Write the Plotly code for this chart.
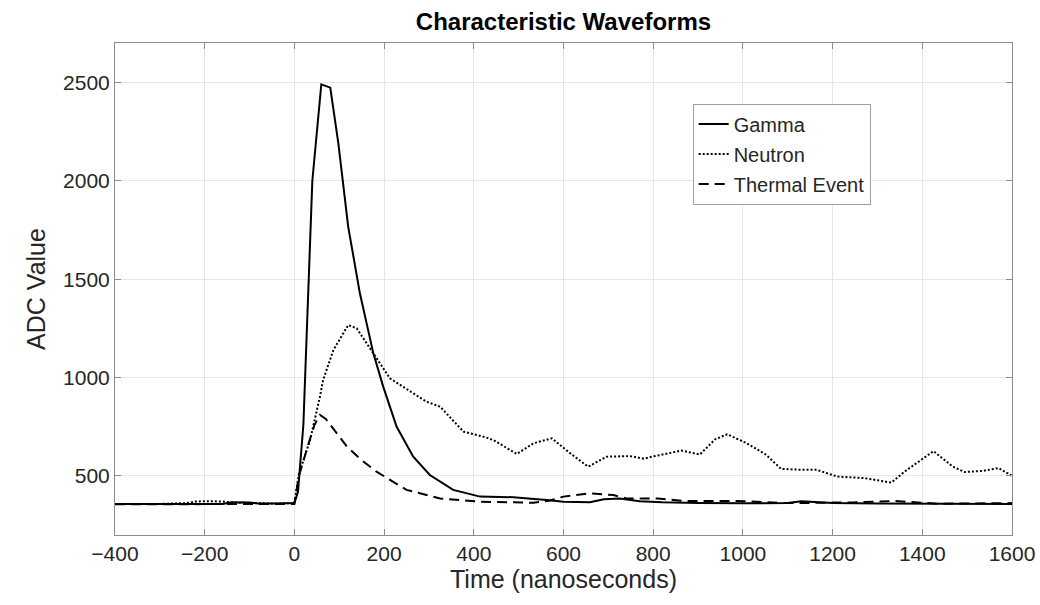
import plotly.graph_objects as go

# ---- data ----
t_gamma = [-400, -350, -300, -250, -200, -160, -140, -120, -100, -80, -60, -40, -20, 0, 8, 20, 40, 60, 80, 98,
           120, 146, 176, 198, 228, 265, 302, 354, 414, 443, 488, 562, 600, 659, 690, 725, 770, 820, 900, 1000,
           1100, 1130, 1160, 1200, 1300, 1400, 1500, 1600]
v_gamma = [358, 357, 358, 357, 358, 358, 366, 367, 365, 360, 359, 360, 361, 362, 420, 760, 2000, 2490, 2473, 2190,
           1766, 1428, 1123, 954, 750, 598, 505, 429, 395, 395, 392, 378, 369, 366, 382, 385, 372, 366, 362, 361,
           363, 372, 368, 362, 360, 359, 358, 358]

t_neutron = [-400, -300, -240, -220, -200, -180, -160, -140, -100, -50, 0, 10, 35, 42, 57, 64, 87, 120, 139, 176,
             213, 265, 295, 325, 377, 421, 443, 496, 533, 574, 615, 655, 696, 748, 779, 802, 863, 904, 938, 965,
             1006, 1051, 1085, 1135, 1165, 1210, 1271, 1331, 1361, 1425, 1467, 1494, 1535, 1570, 1600]
v_neutron = [358, 358, 362, 370, 372, 371, 370, 365, 362, 360, 362, 510, 683, 750, 903, 987, 1140, 1267, 1250, 1123,
             996, 920, 877, 852, 725, 700, 683, 612, 666, 691, 615, 547, 598, 601, 588, 600, 629, 609, 686, 712,
             669, 609, 536, 531, 531, 497, 489, 466, 523, 626, 549, 520, 526, 540, 500]

t_thermal = [-400, -300, -200, -100, 0, 10, 20, 35, 45, 57, 70, 117, 150, 183, 250, 325, 414, 480, 533, 570,
             600, 659, 711, 741, 810, 870, 984, 1104, 1250, 1338, 1436, 1600]
v_thermal = [356, 356, 356, 357, 358, 500, 580, 690, 760, 810, 790, 650, 580, 522, 429, 386, 369, 365, 364, 375,
             395, 412, 403, 386, 385, 373, 373, 362, 366, 373, 359, 362]

x_ticks = [-400, -200, 0, 200, 400, 600, 800, 1000, 1200, 1400, 1600]
y_ticks = [500, 1000, 1500, 2000, 2500]

FONT = "Liberation Sans, Arial, sans-serif"
TXT = "#262626"

fig = go.Figure()
fig.add_trace(go.Scatter(x=t_gamma, y=v_gamma, mode="lines", name="Gamma", legendgroup="g",
                         line=dict(color="black", width=2)))
fig.add_trace(go.Scatter(x=t_neutron, y=v_neutron, mode="lines", name="Neutron", legendgroup="n",
                         line=dict(color="black", width=2, dash="2px,2px")))
fig.add_trace(go.Scatter(x=t_thermal, y=v_thermal, mode="lines", name="Thermal Event", legendgroup="t",
                         line=dict(color="black", width=2, dash="10px,6px")))

axis_common = dict(showgrid=True, gridcolor="#e6e6e6", gridwidth=1,
                   showline=True, linecolor="#8c8c8c", linewidth=1, mirror="ticks",
                   ticks="inside", ticklen=6, tickcolor="#8c8c8c", automargin=False,
                   tickfont=dict(family=FONT, size=21, color=TXT), zeroline=False)

fig.update_layout(
    width=1040, height=605,
    margin=dict(l=115, r=28, t=43, b=70),
    paper_bgcolor="white", plot_bgcolor="white",
    title=dict(text="<b>Characteristic Waveforms</b>", x=0.5418, xanchor="center",
               y=1 - 22 / 605, yref="container", yanchor="middle",
               font=dict(family=FONT, size=24, color="black")),
    xaxis=dict(range=[-400, 1600], tickvals=x_ticks,
               title=dict(text="Time (nanoseconds)", standoff=6,
                          font=dict(family=FONT, size=25, color=TXT)),
               **axis_common),
    yaxis=dict(range=[200, 2700], tickvals=y_ticks,
               title=dict(text="ADC Value", standoff=10,
                          font=dict(family=FONT, size=25, color=TXT)),
               **axis_common),
    legend=dict(x=0.644, y=0.877, xanchor="left", yanchor="top",
                bgcolor="white", bordercolor="#a0a0a0", borderwidth=1,
                tracegroupgap=1,
                font=dict(family=FONT, size=20, color=TXT)),
    showlegend=True,
)

fig.write_html("out.html")
